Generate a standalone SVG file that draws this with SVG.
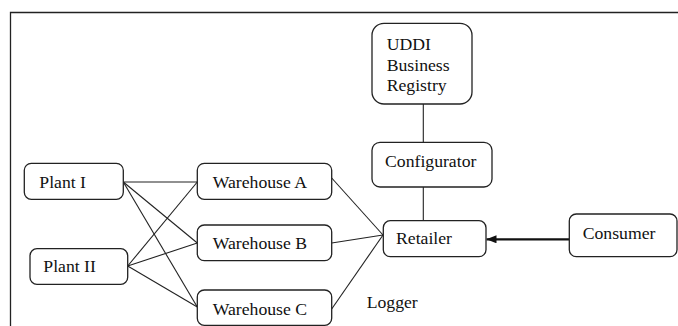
<svg xmlns="http://www.w3.org/2000/svg" width="678" height="326" viewBox="0 0 678 326">
<style>
.box{fill:#fff;stroke:#222;stroke-width:1.3}
.t{font-family:'Liberation Serif',serif;font-size:17.7px;fill:#111}
.c{stroke:#222;stroke-width:1.1;fill:none}
.frame{stroke:#222;stroke-width:1.3;fill:none}
</style>
<defs>
<marker id="ah" viewBox="0 0 10 8" refX="10" refY="4" markerWidth="10" markerHeight="8" markerUnits="userSpaceOnUse" orient="auto">
<path d="M0,0 L10,4 L0,8 Z" fill="#111"/>
</marker>
</defs>
<rect width="678" height="326" fill="#fff"/>
<path class="frame" d="M10.5,326 V12.5 H678"/>
<g id="connectors">
<line class="c" x1="423.3" y1="104" x2="423.3" y2="142"/>
<line class="c" x1="423.3" y1="187" x2="423.3" y2="220.7"/>
<line class="c" x1="123.3" y1="182" x2="197.3" y2="182"/>
<line class="c" x1="123.3" y1="182" x2="197.3" y2="243"/>
<line class="c" x1="123.3" y1="182" x2="197.3" y2="307"/>
<line class="c" x1="127.7" y1="266" x2="197.3" y2="182"/>
<line class="c" x1="127.7" y1="266" x2="197.3" y2="243"/>
<line class="c" x1="127.7" y1="266" x2="197.3" y2="307"/>
<line class="c" x1="331.7" y1="178" x2="383" y2="235"/>
<line class="c" x1="331.7" y1="243" x2="383" y2="235"/>
<line class="c" x1="331.7" y1="309" x2="383" y2="235"/>
<line stroke="#111" stroke-width="2.2" x1="569" y1="239.3" x2="486.5" y2="239.3" marker-end="url(#ah)"/>
</g>
<g id="uddi">
<rect class="box" x="372" y="23.3" width="100" height="80.7" rx="12"/>
<text class="t" font-family="Liberation Serif" x="386.7" y="50">UDDI</text>
<text class="t" font-family="Liberation Serif" x="386.7" y="70.7">Business</text>
<text class="t" font-family="Liberation Serif" x="386.7" y="90.7">Registry</text>
</g>
<g id="configurator">
<rect class="box" x="372" y="142.3" width="120" height="44.7" rx="8"/>
<text class="t" x="385" y="166.7">Configurator</text>
</g>
<g id="retailer">
<rect class="box" x="383.3" y="220.7" width="102.7" height="36" rx="7"/>
<text class="t" x="396" y="244">Retailer</text>
</g>
<g id="consumer">
<rect class="box" x="569.3" y="214" width="107.7" height="42.7" rx="7"/>
<text class="t" x="582.7" y="239.3">Consumer</text>
</g>
<g id="plant1">
<rect class="box" x="24.3" y="163.3" width="99" height="36" rx="7"/>
<text class="t" x="39.3" y="187.7">Plant I</text>
</g>
<g id="plant2">
<rect class="box" x="30" y="248.7" width="97.7" height="35.6" rx="7"/>
<text class="t" x="43.3" y="271.7">Plant II</text>
</g>
<g id="warehouseA">
<rect class="box" x="197.3" y="163.3" width="134.4" height="36" rx="7"/>
<text class="t" x="212.7" y="187.7">Warehouse A</text>
</g>
<g id="warehouseB">
<rect class="box" x="197.3" y="225" width="134.4" height="35.7" rx="7"/>
<text class="t" x="212.7" y="249">Warehouse B</text>
</g>
<g id="warehouseC">
<rect class="box" x="197.3" y="290" width="134.4" height="35.3" rx="7"/>
<text class="t" x="212.7" y="315">Warehouse C</text>
</g>
<g id="logger">
<text class="t" x="366.7" y="308">Logger</text>
</g>
</svg>
